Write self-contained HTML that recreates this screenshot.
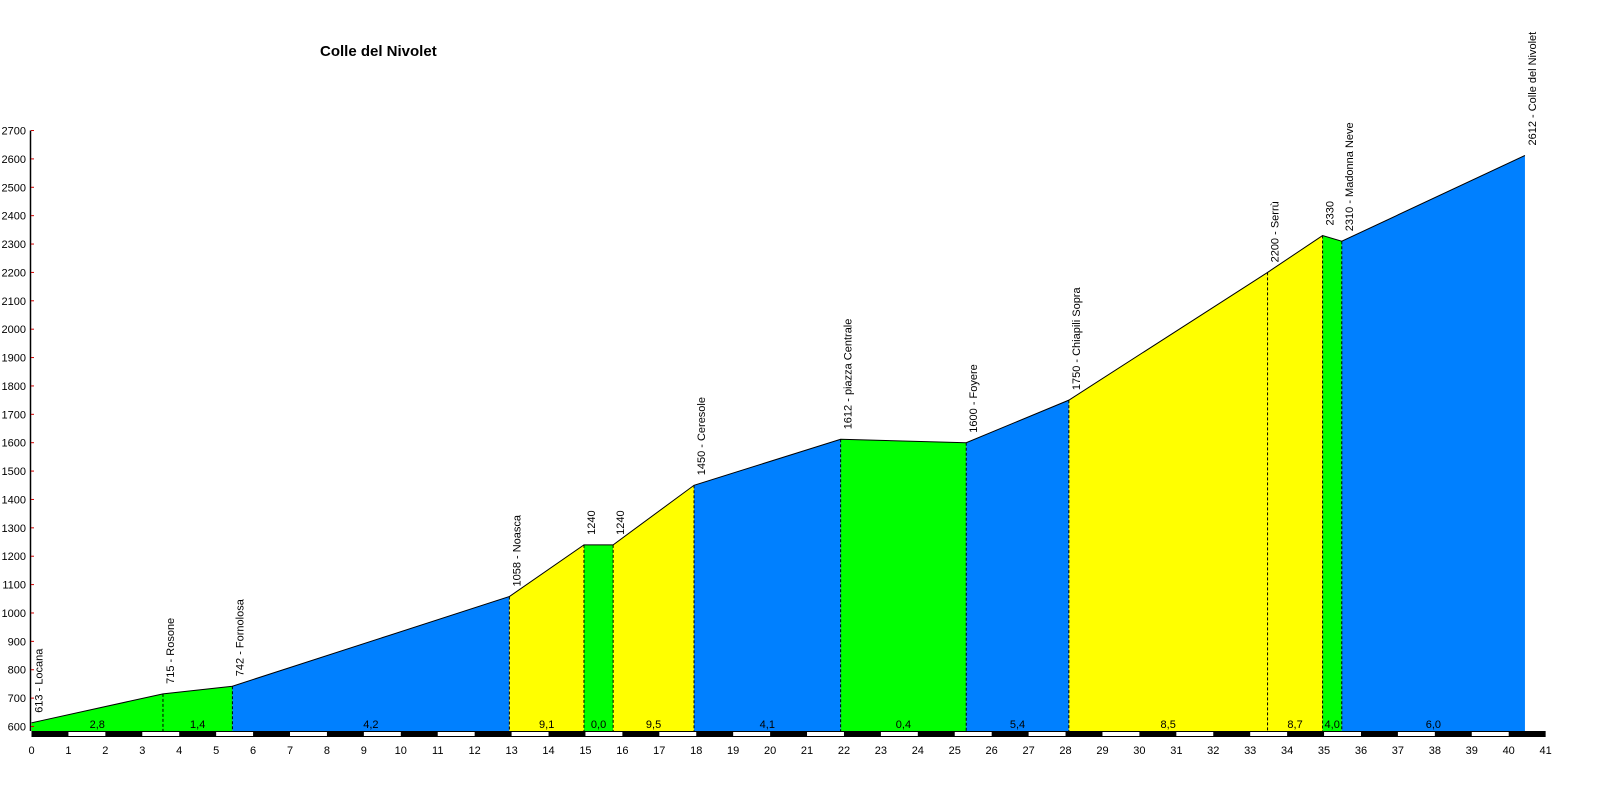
<!DOCTYPE html>
<html><head><meta charset="utf-8"><style>
html,body{margin:0;padding:0;background:#fff;width:1600px;height:800px;overflow:hidden}
svg{display:block;font-family:"Liberation Sans",Arial,sans-serif}
</style></head><body>
<svg id="chart" width="1600" height="800" viewBox="0 0 1600 800" xmlns="http://www.w3.org/2000/svg">
<text x="320" y="56" font-size="15" font-weight="bold">Colle del Nivolet</text>
<g id="areas"></g><g id="labels"></g><g id="axes"></g>
</svg>
<script>
const kms = [0, 3.56, 5.44, 12.94, 14.96, 15.75, 17.94, 21.91, 25.31, 28.09, 33.47, 34.96, 35.48, 40.44];
const elevations = [613, 715, 742, 1058, 1240, 1240, 1450, 1612, 1600, 1750, 2200, 2330, 2310, 2612];
const pointNames = ["613 - Locana","715 - Rosone","742 - Fornolosa","1058 - Noasca","1240","1240","1450 - Ceresole","1612 - piazza Centrale","1600 - Foyere","1750 - Chiapili Sopra","2200 - Serrù","2330","2310 - Madonna Neve","2612 - Colle del Nivolet"];
const gradients = ["2,8","1,4","4,2","9,1","0,0","9,5","4,1","0,4","5,4","8,5","8,7","4,0","6,0"];
const segColors = ["#00ff00","#00ff00","#0080ff","#ffff00","#00ff00","#ffff00","#0080ff","#00ff00","#0080ff","#ffff00","#ffff00","#00ff00","#0080ff"];
const yTicks = [600,700,800,900,1000,1100,1200,1300,1400,1500,1600,1700,1800,1900,2000,2100,2200,2300,2400,2500,2600,2700];
const xTicks = [0,1,2,3,4,5,6,7,8,9,10,11,12,13,14,15,16,17,18,19,20,21,22,23,24,25,26,27,28,29,30,31,32,33,34,35,36,37,38,39,40,41];

const NS="http://www.w3.org/2000/svg";
const X = km => 31.5 + km*36.93;
const Y = e => 726.5 - (e-600)*0.2838;
const BASE = 731;
function mk(tag, attrs, parent, txt){const el=document.createElementNS(NS,tag);for(const k in attrs)el.setAttribute(k,attrs[k]);if(txt!==undefined)el.textContent=txt;parent.appendChild(el);return el;}
const gA=document.getElementById('areas'), gL=document.getElementById('labels'), gX=document.getElementById('axes');

for(let i=0;i<kms.length-1;i++){
  const x1=X(kms[i]),x2=X(kms[i+1]),y1=Y(elevations[i]),y2=Y(elevations[i+1]);
  const p=mk('polygon',{points:`${x1},${BASE} ${x1},${y1} ${x2},${y2} ${x2},${BASE}`,fill:segColors[i]},gA);
  
  
  const t=mk('text',{x:(x1+x2)/2,y:728,'font-size':11,'text-anchor':'middle'},gL,gradients[i]);
  
  
}
const pl=mk('polyline',{points:kms.map((k,i)=>X(k)+','+Y(elevations[i])).join(' '),fill:'none',stroke:'#000','stroke-width':1},gA);


for(let i=1;i<kms.length-1;i++){
  const d=mk('line',{x1:X(kms[i]),x2:X(kms[i]),y1:Y(elevations[i]),y2:BASE,stroke:'#000','stroke-dasharray':'3,2','stroke-width':1},gA);
  
  
}
for(let i=0;i<kms.length;i++){
  const px=X(kms[i])+11, py=Y(elevations[i])-10;
  const t=mk('text',{x:px,y:py,'font-size':11,transform:`rotate(-90 ${px} ${py})`},gL,pointNames[i]);
  
  
}
// y axis
const ya=mk('line',{x1:30.5,x2:30.5,y1:Y(2700),y2:BASE,stroke:'#000','stroke-width':1.5},gX);


yTicks.forEach(v=>{
  const tk=mk('line',{x1:31,x2:34,y1:Y(v),y2:Y(v),stroke:'#d00000','stroke-width':1},gX);
  
  
  const t=mk('text',{x:26,y:Y(v)+4,'font-size':11,'text-anchor':'end'},gX,String(v));
  
  
});
// distance strip
const strip=mk('rect',{x:X(0),y:731,width:X(41)-X(0),height:6,fill:'#000'},gX);


xTicks.forEach(v=>{
  if(v<41 && v%2===1){
    const r=mk('rect',{x:X(v),y:732,width:X(v+1)-X(v),height:4,fill:'#fff'},gX);
    
    
  }
  const t=mk('text',{x:X(v),y:754,'font-size':11,'text-anchor':'middle'},gX,String(v));
  
  
});
</script>
</body></html>
